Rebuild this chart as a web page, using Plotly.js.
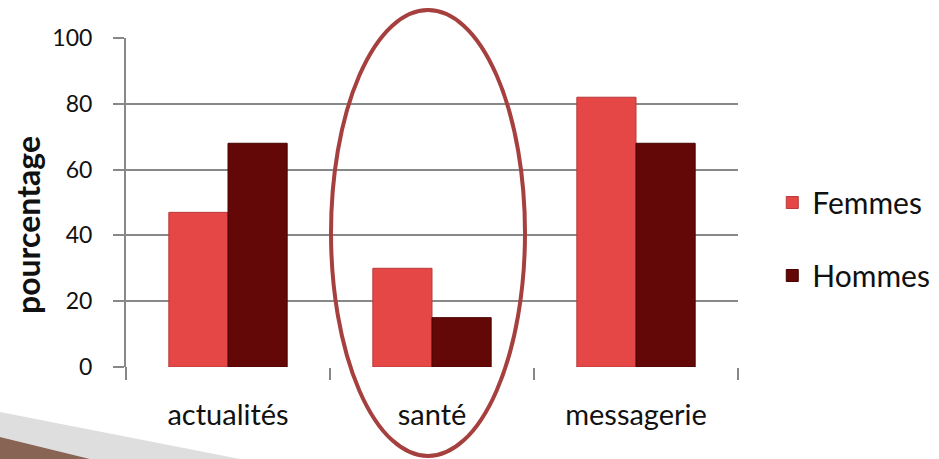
<!DOCTYPE html>
<html><head><meta charset="utf-8">
<script src="https://cdn.plot.ly/plotly-3.0.1.min.js"></script>
<style>html,body{margin:0;padding:0;background:#fff}#chart{width:939px;height:459px}</style>
</head><body><div id="chart"></div>
<script>
var categories = ["actualités", "santé", "messagerie"];
var femmes = [47, 30, 82];
var hommes = [68, 15, 68];
var seriesNames = ["Femmes", "Hommes"];
var yTicks = [0, 20, 40, 60, 80, 100];

var FONT = "Lato, 'Open Sans', sans-serif";
var traces = [
  {type: "bar", x: categories, y: femmes, name: seriesNames[0], legendgroup: "f",
   marker: {color: "#e54747", line: {color: "#b83a3a", width: 1}}},
  {type: "bar", x: categories, y: hommes, name: seriesNames[1], legendgroup: "h",
   marker: {color: "#640707", line: {color: "#4a0202", width: 1}}}
];
function px2x(p){ return (p - 126) / 612; }
function py2y(p){ return (367 - p) / 329; }
var layout = {
  width: 939, height: 459,
  margin: {l: 126, r: 201, t: 38, b: 92, autoexpand: false},
  paper_bgcolor: "#fff", plot_bgcolor: "#fff",
  barmode: "group", bargap: 0.42, bargroupgap: 0,
  font: {family: FONT, color: "#111"},
  showlegend: true,
  legend: {x: 1.056, xanchor: "left", y: py2y(239), yanchor: "middle", font: {size: 30, color: "#111"},
           tracegroupgap: 31, itemwidth: 30, bgcolor: "rgba(0,0,0,0)"},
  xaxis: {type: "category", showgrid: false, showline: false, zeroline: false,
          ticks: "outside", tickson: "boundaries", ticklen: 12, tickwidth: 2, tickcolor: "#888",
          tickfont: {size: 29, color: "#111"}, ticklabelstandoff: 28},
  yaxis: {range: [0, 100], tickvals: yTicks, showgrid: true, gridcolor: "#888", gridwidth: 2,
          showline: true, linecolor: "#888", linewidth: 2, zeroline: false,
          ticks: "outside", ticklen: 11, tickwidth: 2, tickcolor: "#888",
          tickfont: {size: 23, color: "#111"}, ticklabelstandoff: 16},
  annotations: [
    {xref: "paper", yref: "paper", x: px2x(27), y: py2y(225), xanchor: "center", yanchor: "middle",
     text: "<b>pourcentage</b>", textangle: -90, showarrow: false, font: {size: 32, color: "#111"}}
  ],
  shapes: [
    {type: "line", xref: "paper", yref: "paper", x0: 0, x1: 0, y0: 0, y1: py2y(379),
     line: {color: "#888", width: 2}},
    {type: "path", xref: "paper", yref: "paper", layer: "below",
     path: "M " + px2x(0) + " " + py2y(412) + " L " + px2x(240) + " " + py2y(459) + " L " + px2x(90) + " " + py2y(459) + " L " + px2x(0) + " " + py2y(437) + " Z",
     fillcolor: "#dedede", line: {width: 0}},
    {type: "path", xref: "paper", yref: "paper", layer: "below",
     path: "M " + px2x(0) + " " + py2y(437) + " L " + px2x(90) + " " + py2y(459) + " L " + px2x(0) + " " + py2y(459) + " Z",
     fillcolor: "#876454", line: {width: 0}},
    {type: "circle", xref: "paper", yref: "paper",
     x0: px2x(331), x1: px2x(525), y0: py2y(456), y1: py2y(10),
     line: {color: "#a5403e", width: 4}, fillcolor: "rgba(0,0,0,0)"}
  ]
};
Plotly.newPlot("chart", traces, layout, {displayModeBar: false, staticPlot: true});
</script></body></html>
